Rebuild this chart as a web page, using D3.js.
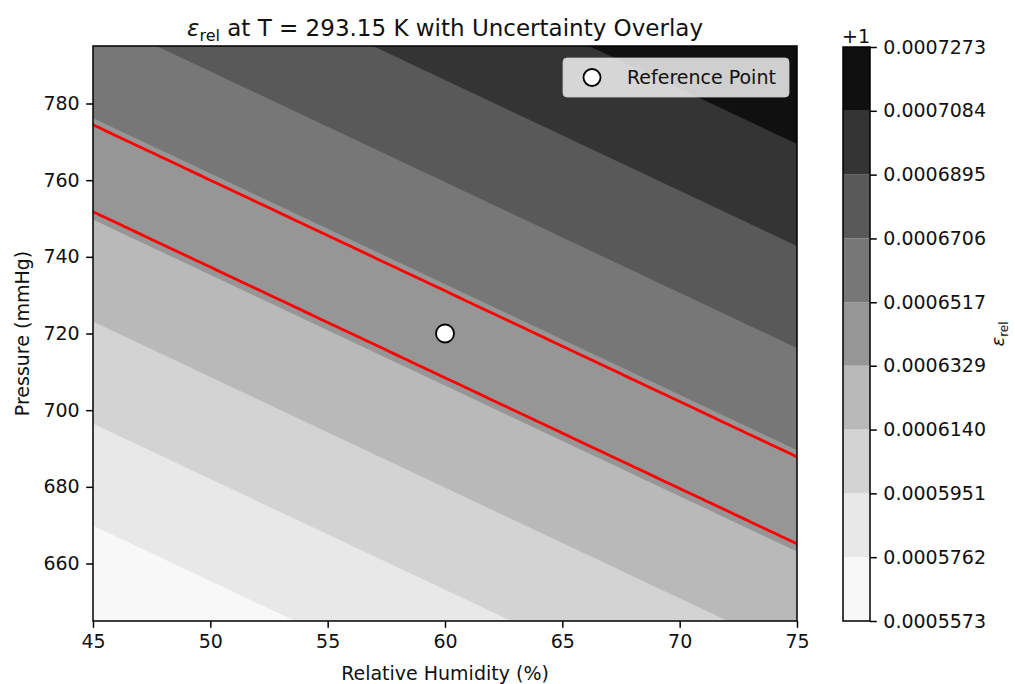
<!DOCTYPE html>
<html>
<head>
<meta charset="utf-8">
<script src="https://cdn.jsdelivr.net/npm/d3@7"></script>
<style>
  body { margin: 0; background: #fff; }
  text { font-family: "DejaVu Sans", sans-serif; fill: #111; }
</style>
</head>
<body>
<svg id="chart" width="1015" height="684"></svg>
<script>
// axis ranges and ticks
let rhRange = [45, 75];
let pRange = [645, 795];
let rhTicks = [45, 50, 55, 60, 65, 70, 75];
let pTicks = [660, 680, 700, 720, 740, 760, 780];

// eps_rel - 1 read at the four plot corners (BL, BR, TL, TR)
let cornerEps = [0.0005585, 0.0006200, 0.0006650, 0.0007265];

// contour levels = colorbar ticks (offset +1)
let levels = [0.0005573, 0.0005762, 0.0005951, 0.0006140, 0.0006329,
              0.0006517, 0.0006706, 0.0006895, 0.0007084, 0.0007273];

// uncertainty overlay (red contours)
let uncLevels = [0.0006343, 0.0006504];

let refPoints = [{rh: 60, p: 720}];
let legendLabels = ["Reference Point"];

let plot = {left: 93, right: 797, top: 46, bottom: 621};
let cbar = {left: 843, right: 870, top: 47, bottom: 621};
let fontSize = 19;
let tickLen = 6.8;

let svg = d3.select("#chart");

let x = d3.scaleLinear().domain(rhRange).range([plot.left, plot.right]);
let y = d3.scaleLinear().domain(pRange).range([plot.bottom, plot.top]);

// matplotlib Greys, colour of each band taken at the band middle
let greys = d3.scaleLinear()
  .domain(d3.range(9).map(i => i / 8))
  .range(d3.schemeGreys[9]);
let bandColor = k => greys((k + 0.5) / (levels.length - 1));

// grid for the contour generator, a bit larger than the plot
let rh0 = 44, drh = 0.25, nx = 129;
let p0 = 640, dp = 1, ny = 161;
let values = new Array(nx * ny);
for (let j = 0; j < ny; j++) {
  for (let i = 0; i < nx; i++) {
    let u = (rh0 + i * drh - rhRange[0]) / (rhRange[1] - rhRange[0]);
    let w = (p0 + j * dp - pRange[0]) / (pRange[1] - pRange[0]);
    values[j * nx + i] = cornerEps[0] * (1 - u) * (1 - w) + cornerEps[1] * u * (1 - w)
                       + cornerEps[2] * (1 - u) * w + cornerEps[3] * u * w;
  }
}

let gridPath = d3.geoPath(d3.geoTransform({
  point: function(gx, gy) {
    this.stream.point(x(rh0 + (gx - 0.5) * drh), y(p0 + (gy - 0.5) * dp));
  }
}));

svg.append("clipPath").attr("id", "plotclip")
  .append("rect")
  .attr("x", plot.left).attr("y", plot.top)
  .attr("width", plot.right - plot.left).attr("height", plot.bottom - plot.top);

let area = svg.append("g").attr("clip-path", "url(#plotclip)");

// lowest band as background
area.append("rect")
  .attr("x", plot.left).attr("y", plot.top)
  .attr("width", plot.right - plot.left).attr("height", plot.bottom - plot.top)
  .attr("fill", bandColor(0));

let bands = d3.contours().size([nx, ny]).thresholds(levels.slice(1, levels.length - 1))(values);
area.selectAll("path.band")
  .data(bands)
  .enter()
  .append("path")
  .attr("class", "band")
  .attr("d", gridPath)
  .attr("fill", (d, i) => bandColor(i + 1))
  .attr("stroke", (d, i) => bandColor(i + 1))
  .attr("stroke-width", 0.5);

// red uncertainty lines
let unc = d3.contours().size([nx, ny]).thresholds(uncLevels)(values);
area.selectAll("path.unc")
  .data(unc)
  .enter()
  .append("path")
  .attr("class", "unc")
  .attr("d", gridPath)
  .attr("fill", "none")
  .attr("stroke", "#ff0000")
  .attr("stroke-width", 2.8);

// reference point
svg.selectAll("circle.ref")
  .data(refPoints)
  .enter()
  .append("circle")
  .attr("class", "ref")
  .attr("cx", d => x(d.rh))
  .attr("cy", d => y(d.p))
  .attr("r", 9)
  .attr("fill", "#fff")
  .attr("stroke", "#000")
  .attr("stroke-width", 1.8);

// axes
let xAxis = svg.append("g")
  .attr("transform", "translate(0," + plot.bottom + ")")
  .call(d3.axisBottom(x).tickValues(rhTicks).tickSize(tickLen).tickPadding(6.5).tickFormat(d3.format("d")));
let yAxis = svg.append("g")
  .attr("transform", "translate(" + plot.left + ",0)")
  .call(d3.axisLeft(y).tickValues(pTicks).tickSize(tickLen).tickPadding(6.5).tickFormat(d3.format("d")));
[xAxis, yAxis].forEach(function(g) {
  g.select(".domain").remove();
  g.selectAll("line").attr("stroke", "#000").attr("stroke-width", 1.5);
  g.selectAll("text").attr("font-size", fontSize).attr("font-family", "DejaVu Sans").attr("fill", "#111");
});

svg.append("rect")
  .attr("x", plot.left).attr("y", plot.top)
  .attr("width", plot.right - plot.left).attr("height", plot.bottom - plot.top)
  .attr("fill", "none").attr("stroke", "#000").attr("stroke-width", 1.5);

// legend
let legend = svg.append("g");
legend.append("rect")
  .attr("x", 563).attr("y", 58).attr("width", 226).attr("height", 39).attr("rx", 4)
  .attr("fill", "#fff").attr("fill-opacity", 0.8)
  .attr("stroke", "#ccc").attr("stroke-opacity", 0.8);
legend.append("circle")
  .attr("cx", 592).attr("cy", 77.5).attr("r", 8.5)
  .attr("fill", "#fff").attr("stroke", "#000").attr("stroke-width", 1.8);
legend.append("text")
  .attr("x", 627).attr("y", 77.5).attr("dy", "0.35em")
  .attr("font-size", fontSize)
  .text(legendLabels[0]);

// colorbar
let cbY = d3.scaleLinear().domain([levels[0], levels[levels.length - 1]]).range([cbar.bottom, cbar.top]);
svg.selectAll("rect.cb")
  .data(levels.slice(0, levels.length - 1))
  .enter()
  .append("rect")
  .attr("class", "cb")
  .attr("x", cbar.left)
  .attr("y", (d, i) => cbY(levels[i + 1]))
  .attr("width", cbar.right - cbar.left)
  .attr("height", (d, i) => cbY(levels[i]) - cbY(levels[i + 1]))
  .attr("fill", (d, i) => bandColor(i));
svg.append("rect")
  .attr("x", cbar.left).attr("y", cbar.top)
  .attr("width", cbar.right - cbar.left).attr("height", cbar.bottom - cbar.top)
  .attr("fill", "none").attr("stroke", "#000").attr("stroke-width", 1.5);
let cbAxis = svg.append("g")
  .attr("transform", "translate(" + cbar.right + ",0)")
  .call(d3.axisRight(cbY).tickValues(levels).tickSize(tickLen).tickPadding(6.5).tickFormat(d3.format(".7f")));
cbAxis.select(".domain").remove();
cbAxis.selectAll("line").attr("stroke", "#000").attr("stroke-width", 1.5);
cbAxis.selectAll("text").attr("font-size", fontSize).attr("font-family", "DejaVu Sans").attr("fill", "#111");

svg.append("text")
  .attr("x", 842).attr("y", 43)
  .attr("font-size", fontSize)
  .text("+1");

// colorbar label, kept just inside the right edge
let cbLabel = svg.append("text")
  .attr("transform", "translate(1004," + ((cbar.top + cbar.bottom) / 2) + ") rotate(-90)")
  .attr("text-anchor", "middle")
  .attr("font-size", 18);
cbLabel.append("tspan").attr("font-style", "italic").text("ε");
cbLabel.append("tspan").attr("font-size", 12).attr("dy", 4).text("rel");

// title
let title = svg.append("text")
  .attr("x", (plot.left + plot.right) / 2)
  .attr("y", 36)
  .attr("text-anchor", "middle")
  .attr("font-size", 23);
title.append("tspan").attr("font-style", "italic").text("ε");
title.append("tspan").attr("font-size", 16).attr("dy", 5).text("rel");
title.append("tspan").attr("dy", -5).text(" at T = 293.15 K with Uncertainty Overlay");

// axis labels
svg.append("text")
  .attr("x", (plot.left + plot.right) / 2)
  .attr("y", 680)
  .attr("text-anchor", "middle")
  .attr("font-size", fontSize)
  .text("Relative Humidity (%)");

svg.append("text")
  .attr("transform", "translate(29," + ((plot.top + plot.bottom) / 2) + ") rotate(-90)")
  .attr("text-anchor", "middle")
  .attr("font-size", fontSize)
  .text("Pressure (mmHg)");
</script>
</body>
</html>
